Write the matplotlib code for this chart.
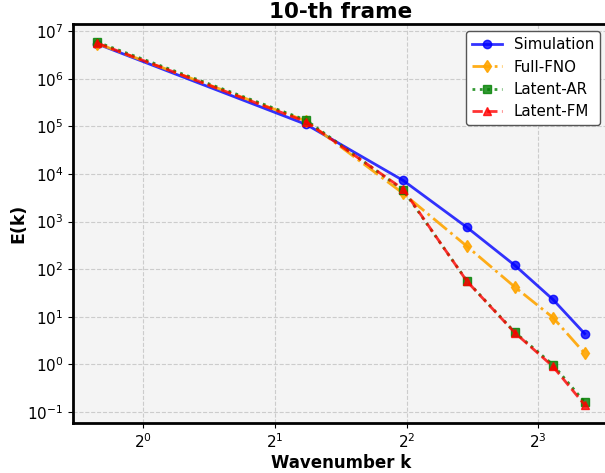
import matplotlib
matplotlib.use("Agg")
import matplotlib.pyplot as plt
import numpy as np

k = [0.785, 2.356, 3.927, 5.498, 7.069, 8.639, 10.21]
simulation = [5.4e6, 1.1e5, 7.3e3, 750, 120, 23, 4.4]
full_fno = [5.5e6, 1.3e5, 3.9e3, 300, 42, 9.6, 1.7]
latent_ar = [5.9e6, 1.35e5, 4.6e3, 56, 4.7, 0.98, 0.16]
latent_fm = [5.6e6, 1.25e5, 4.8e3, 55, 4.6, 0.9, 0.14]
x_ticks = [1, 2, 4, 8]
y_ticks = [1e-1, 1e0, 1e1, 1e2, 1e3, 1e4, 1e5, 1e6, 1e7]

fig = plt.figure(figsize=(6.05, 4.73), dpi=100)
ax = fig.add_axes([73/605, 1-423/473, (609-73)/605, (423-24)/473])
ax.set_facecolor("#f4f4f4")

ax.plot(k, simulation, color="blue", ls="-", marker="o", lw=2, ms=6, alpha=0.8, label="Simulation")
ax.plot(k, full_fno, color="orange", ls="-.", marker="d", lw=2, ms=6, alpha=0.9, label="Full-FNO")
ax.plot(k, latent_ar, color="green", ls=":", marker="s", lw=2, ms=6, alpha=0.8, label="Latent-AR")
ax.plot(k, latent_fm, color="red", ls="--", marker="^", lw=2, ms=6, alpha=0.8, label="Latent-FM")

ax.set_xscale("log", base=2)
ax.set_yscale("log")
ax.set_xticks(x_ticks)
ax.set_yticks(y_ticks)
ax.xaxis.set_minor_locator(matplotlib.ticker.NullLocator())
ax.yaxis.set_minor_locator(matplotlib.ticker.NullLocator())
ax.grid(True, ls="--", color="#cccccc", lw=0.8)
for s in ax.spines.values():
    s.set_linewidth(2)
ax.tick_params(labelsize=11)

ax.set_title("10-th frame", fontsize=15.5, fontweight="bold", pad=4)
ax.set_xlabel("Wavenumber k", fontsize=12, fontweight="bold", labelpad=2)
ax.set_ylabel("E(k)", fontsize=12.5, fontweight="bold", labelpad=0)
leg = ax.legend(loc="upper right", fontsize=10.8, framealpha=1, edgecolor="#555555",
                bbox_to_anchor=((600-73)/536, (423-31)/399), borderaxespad=0)

fig.savefig("out.png", dpi=100)
